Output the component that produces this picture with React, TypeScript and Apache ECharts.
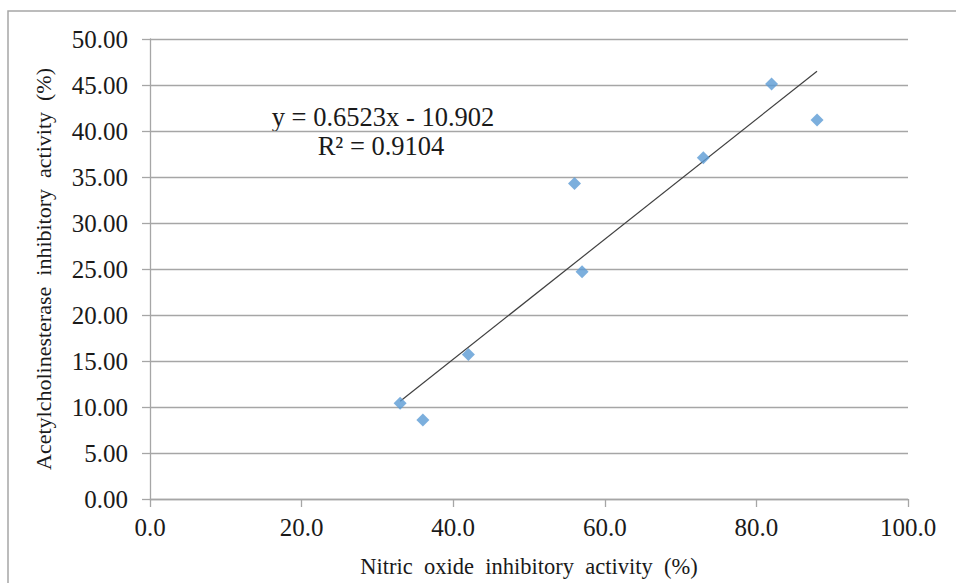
import React, { useEffect, useRef } from "react";
import * as echarts from "echarts";

// Nitric oxide inhibitory activity (%) vs acetylcholinesterase inhibitory activity (%)
const noActivity = [33, 36, 42, 56, 57, 73, 82, 88];
const acheActivity = [10.4, 8.6, 15.7, 34.3, 24.7, 37.1, 45.1, 41.2];

// Linear trendline reported on the chart
const slope = 0.6523;
const intercept = -10.902;
const rSquared = 0.9104;

const xTicks = { min: 0, max: 100, interval: 20 };
const yTicks = { min: 0, max: 50, interval: 5 };

const SERIF = "Liberation Serif";

export default function App() {
  const ref = useRef<HTMLDivElement>(null);

  useEffect(() => {
    if (!ref.current) return;
    const chart = echarts.init(ref.current, null, { renderer: "svg" });

    const points = noActivity.map((x, i) => [x, acheActivity[i]]);
    const xLo = Math.min(...noActivity);
    const xHi = Math.max(...noActivity);
    const trend = [
      [xLo, slope * xLo + intercept],
      [xHi, slope * xHi + intercept],
    ];

    const gray = "#a6a6a6";
    const ink = "#1a1a1a";

    chart.setOption({
      animation: false,
      backgroundColor: "#ffffff",
      textStyle: { fontFamily: SERIF },
      grid: { left: 150, right: 48, top: 39, bottom: 77 },
      xAxis: {
        type: "value",
        ...xTicks,
        name: "Nitric  oxide  inhibitory  activity  (%)",
        nameLocation: "middle",
        nameGap: 56,
        nameTextStyle: { fontFamily: SERIF, fontSize: 22.5, color: ink },
        axisLine: { show: true, lineStyle: { color: gray, width: 1.3 } },
        axisTick: { show: true, inside: false, length: 8, lineStyle: { color: gray, width: 1.3 } },
        splitLine: { show: false },
        axisLabel: {
          fontFamily: SERIF,
          fontSize: 25,
          color: ink,
          margin: 16,
          formatter: (v: number) => v.toFixed(1),
        },
      },
      yAxis: {
        type: "value",
        ...yTicks,
        name: "Acetylcholinesterase  inhibitory  activity  (%)",
        nameLocation: "middle",
        nameGap: 96,
        nameRotate: 90,
        nameTextStyle: { fontFamily: SERIF, fontSize: 22, color: ink },
        axisLine: { show: true, lineStyle: { color: gray, width: 1.3 } },
        axisTick: { show: true, inside: false, length: 8, lineStyle: { color: gray, width: 1.3 } },
        splitLine: { show: true, lineStyle: { color: gray, width: 1.3 } },
        axisLabel: {
          fontFamily: SERIF,
          fontSize: 25,
          color: ink,
          margin: 22,
          formatter: (v: number) => v.toFixed(2),
        },
      },
      series: [
        {
          type: "line",
          data: trend,
          symbol: "none",
          lineStyle: { color: "#404040", width: 1.2 },
          z: 3,
        },
        {
          type: "scatter",
          data: points,
          symbol: "diamond",
          symbolSize: [13, 13],
          itemStyle: { color: "#5b9bd5" },
          z: 4,
        },
      ],
      graphic: [
        {
          type: "rect",
          shape: { x: 8, y: 11, width: 1000, height: 1000 },
          style: { fill: "none", stroke: "#a6a6a6", lineWidth: 1.5 },
          silent: true,
        },
        {
          type: "text",
          x: 383,
          y: 117,
          style: {
            text: `y = ${slope}x - ${Math.abs(intercept)}`,
            fontFamily: SERIF,
            fontSize: 26.5,
            fill: ink,
            align: "center",
            verticalAlign: "middle",
          },
        },
        {
          type: "text",
          x: 381,
          y: 146,
          style: {
            text: `R² = ${rSquared}`,
            fontFamily: SERIF,
            fontSize: 26.5,
            fill: ink,
            align: "center",
            verticalAlign: "middle",
          },
        },
      ],
    });

    return () => chart.dispose();
  }, []);

  return (
    <div
      ref={ref}
      style={{ position: "fixed", left: 0, top: 0, width: 956, height: 583 }}
    />
  );
}
